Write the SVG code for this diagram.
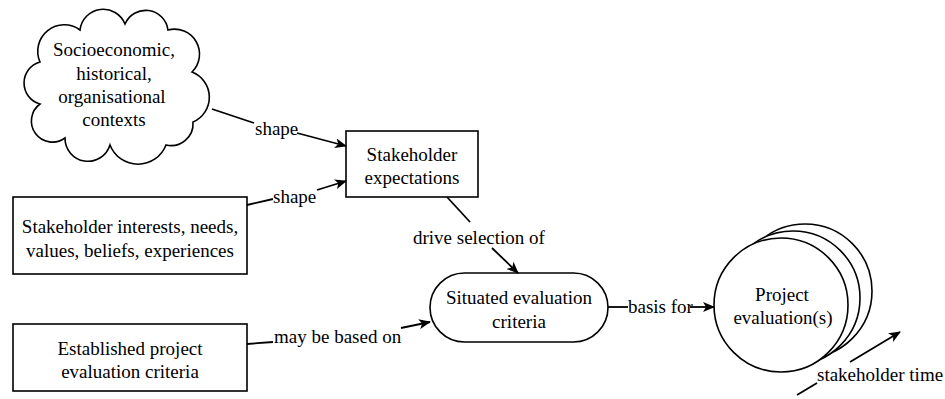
<svg xmlns="http://www.w3.org/2000/svg" width="945" height="399" viewBox="0 0 945 399" font-family="'Liberation Serif', 'DejaVu Serif', serif">
<style>
  .shape { fill: #fff; stroke: #000; stroke-width: 1.6; }
  text { font-family: 'Liberation Serif', 'DejaVu Serif', serif; font-size: 19px; fill: #000; }
  .t { text-anchor: middle; }
  .conn { fill: none; stroke: #000; stroke-width: 1.8; }
</style>
<defs>
  <marker id="arr" viewBox="0 0 12 10" refX="11" refY="5" markerWidth="12" markerHeight="10" markerUnits="userSpaceOnUse" orient="auto">
    <path d="M0,0 L12,5 L0,10 L3,5 z" fill="#000"/>
  </marker>
</defs>
<rect width="945" height="399" fill="#fff"/>

<g id="cloud">
  <path class="shape" d="M40,62 A26.5,26.5 0 0 1 80,30 A23.4,23.4 0 0 1 125,24 A22.5,22.5 0 0 1 168,30 A25,25 0 0 1 192,72 A27,27 0 0 1 193,122 A22,22 0 0 1 166,145 A30,30 0 0 1 110,145 A23,23 0 0 1 65,138 A19,19 0 0 1 40,104 A21.8,21.8 0 0 1 40,62 Z"/>
  <text class="t" x="114" y="56">Socioeconomic,</text>
  <text class="t" x="114" y="80">historical,</text>
  <text class="t" x="112" y="103">organisational</text>
  <text class="t" x="114" y="126">contexts</text>
</g>

<g id="expectations">
  <rect class="shape" x="346" y="131" width="132" height="66"/>
  <text class="t" x="412" y="161">Stakeholder</text>
  <text class="t" x="412" y="184">expectations</text>
</g>

<g id="interests">
  <rect class="shape" x="13" y="197" width="234" height="77"/>
  <text class="t" x="130" y="233">Stakeholder interests, needs,</text>
  <text class="t" x="130" y="257">values, beliefs, experiences</text>
</g>

<g id="established">
  <rect class="shape" x="13" y="324" width="234" height="67"/>
  <text class="t" x="130" y="355">Established project</text>
  <text class="t" x="130" y="378">evaluation criteria</text>
</g>

<g id="situated">
  <rect class="shape" x="430" y="273" width="178" height="69" rx="34.5" ry="34.5"/>
  <text class="t" x="519" y="304">Situated evaluation</text>
  <text class="t" x="519" y="328">criteria</text>
</g>

<g id="evaluations">
  <circle class="shape" cx="805" cy="291" r="67"/>
  <circle class="shape" cx="793" cy="298" r="67"/>
  <circle class="shape" cx="781" cy="305" r="67"/>
  <text class="t" x="782" y="301">Project</text>
  <text class="t" x="783" y="324">evaluation(s)</text>
</g>

<g id="connectors">
  <line class="conn" x1="212" y1="109" x2="254" y2="123"/>
  <line class="conn" x1="297" y1="133" x2="346" y2="146" marker-end="url(#arr)"/>
  <text x="255" y="135">shape</text>

  <line class="conn" x1="247" y1="205" x2="273" y2="199"/>
  <line class="conn" x1="317" y1="190" x2="346" y2="181" marker-end="url(#arr)"/>
  <text x="273" y="203">shape</text>

  <line class="conn" x1="447" y1="197" x2="470" y2="222"/>
  <line class="conn" x1="492" y1="248" x2="518" y2="273" marker-end="url(#arr)"/>
  <text x="413" y="244">drive selection of</text>

  <line class="conn" x1="247" y1="344" x2="273" y2="342"/>
  <line class="conn" x1="401" y1="328" x2="430" y2="322" marker-end="url(#arr)"/>
  <text x="274" y="343">may be based on</text>

  <line class="conn" x1="608" y1="307" x2="628" y2="307"/>
  <line class="conn" x1="690" y1="307" x2="714" y2="307" marker-end="url(#arr)"/>
  <text x="628" y="313">basis for</text>

  <line class="conn" x1="797" y1="395" x2="817" y2="383"/>
  <line class="conn" x1="850" y1="362" x2="900" y2="332" marker-end="url(#arr)"/>
  <text x="817" y="381">stakeholder time</text>
</g>
</svg>
